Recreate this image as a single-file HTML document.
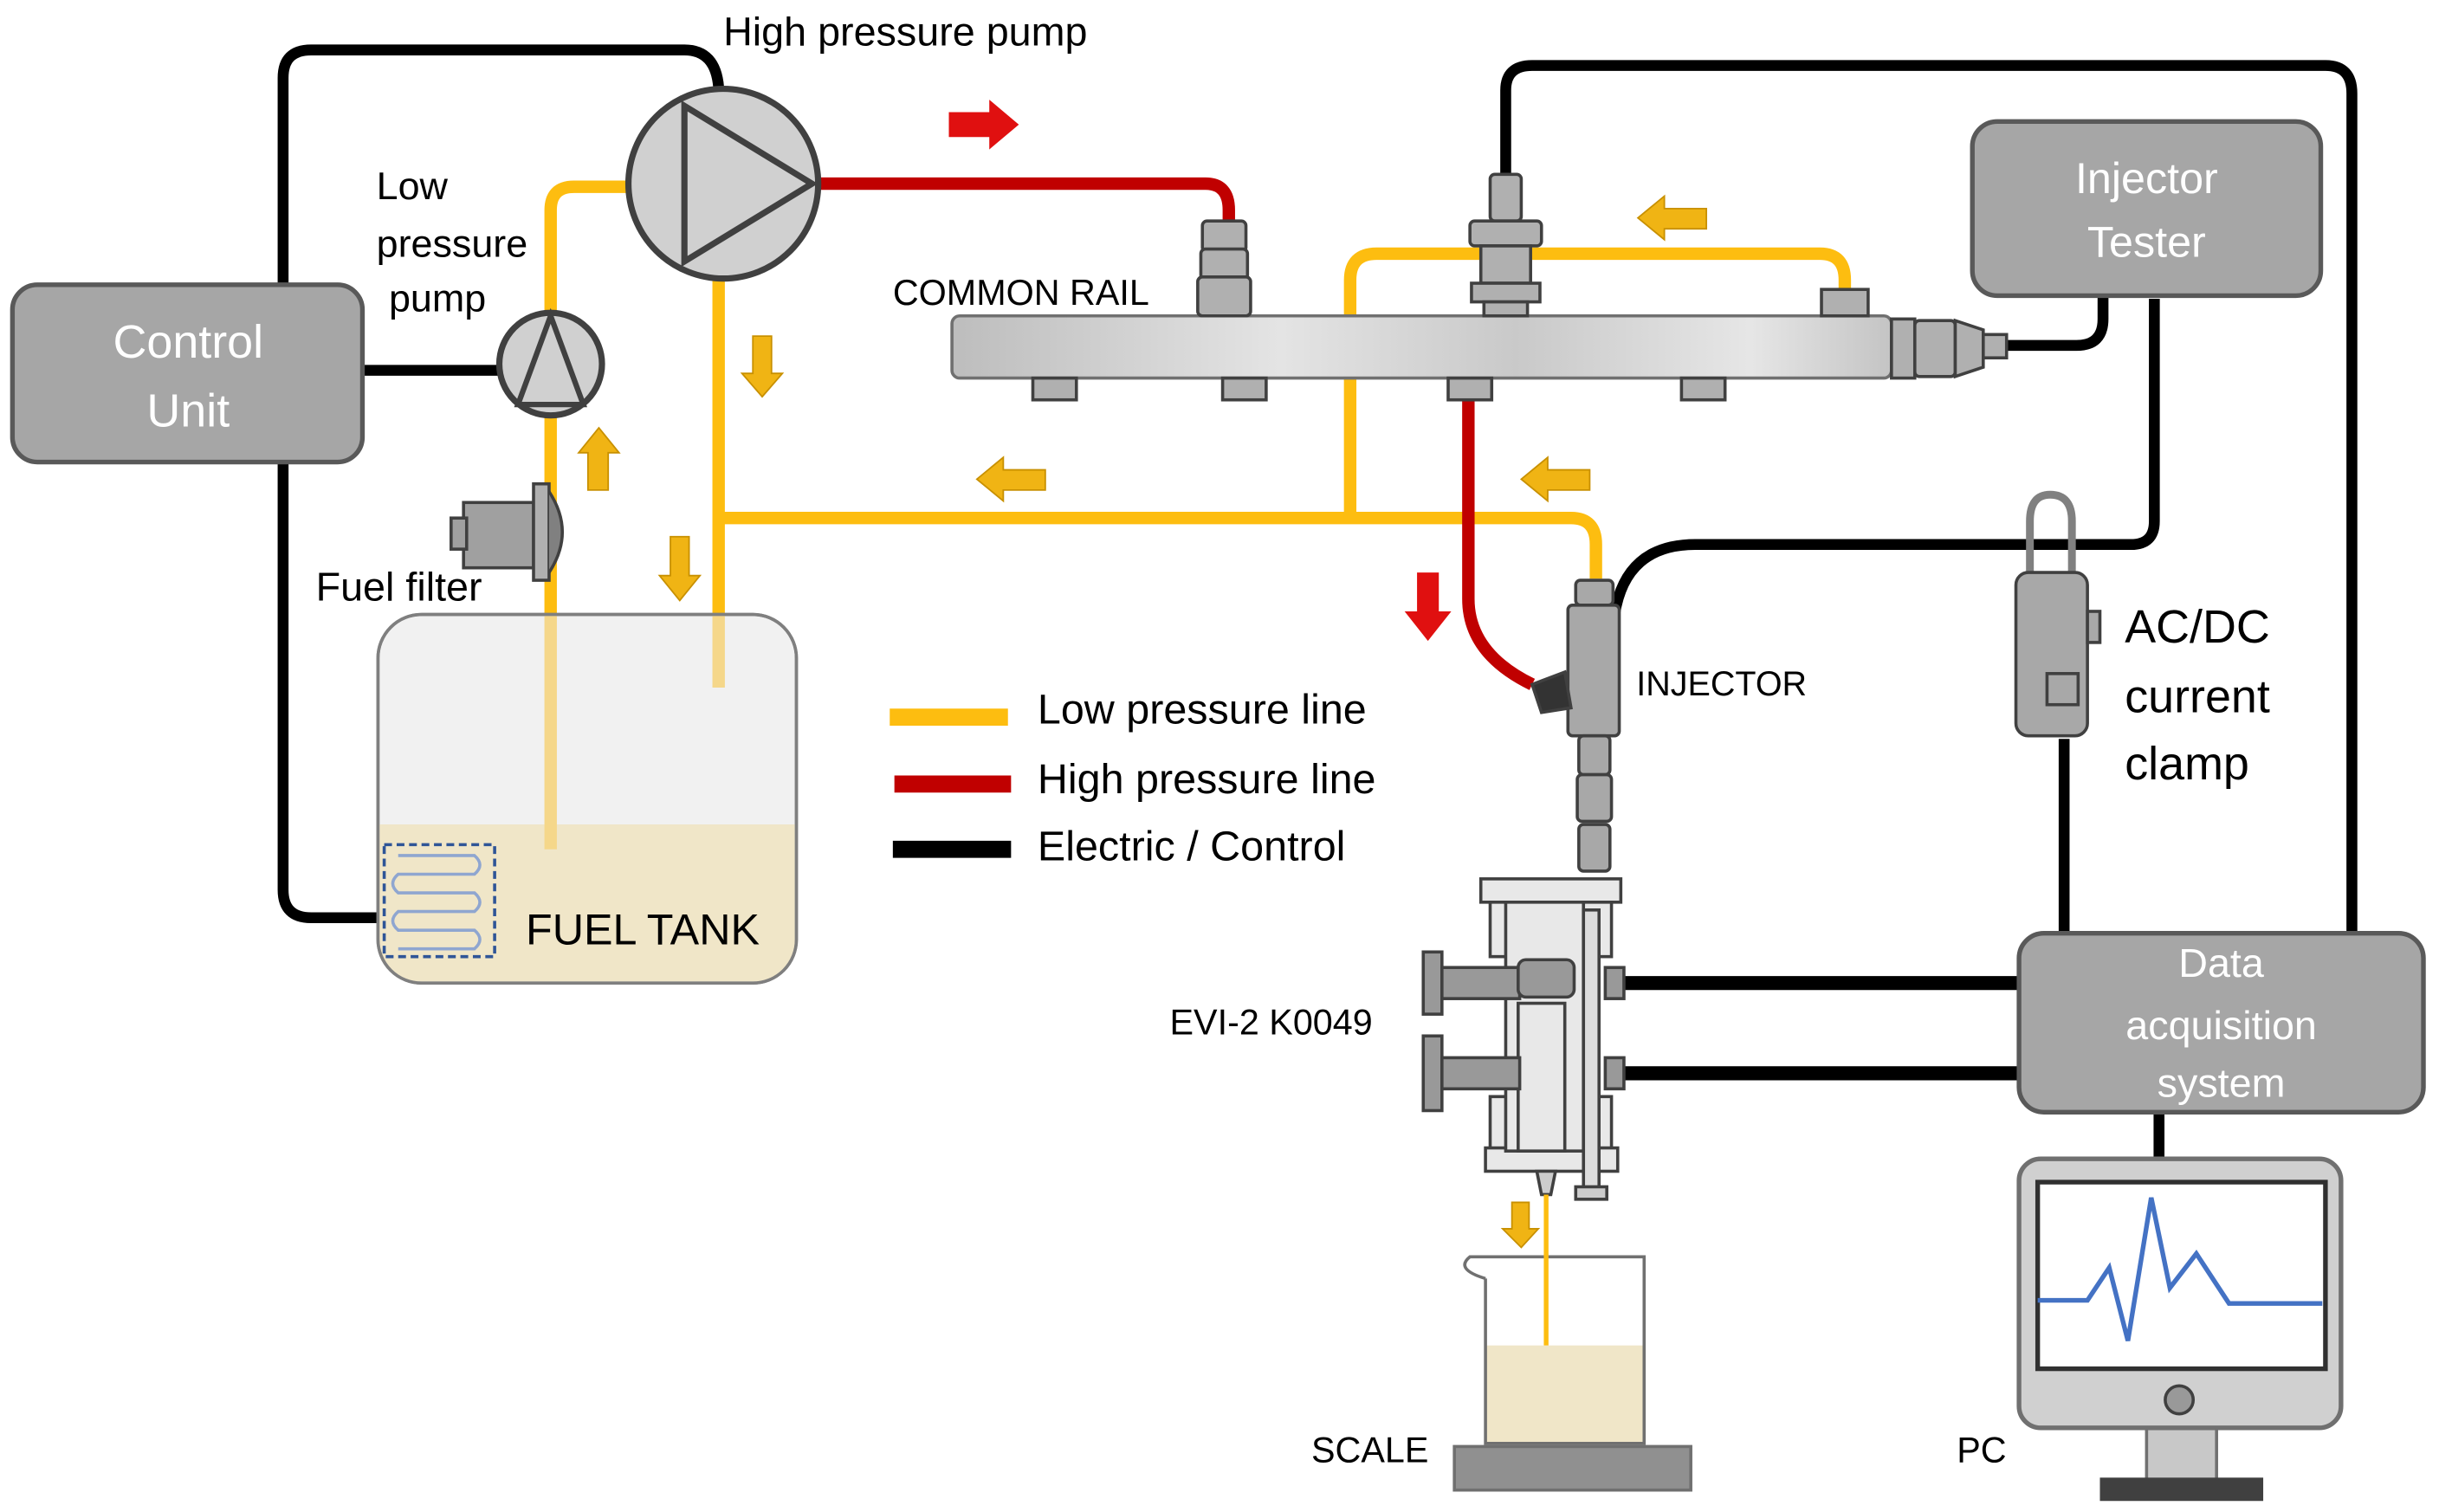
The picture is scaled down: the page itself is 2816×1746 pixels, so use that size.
<!DOCTYPE html>
<html><head><meta charset="utf-8"><style>
html,body{margin:0;padding:0;background:#fff}
svg{display:block}
text{font-family:"Liberation Sans",sans-serif}
</style></head><body>
<svg width="2816" height="1746" viewBox="0 0 1568 972" xmlns="http://www.w3.org/2000/svg">
<defs>
<linearGradient id="rail" x1="0" x2="1" y1="0" y2="0">
<stop offset="0" stop-color="#bdbdbd"/><stop offset="0.35" stop-color="#e4e4e4"/><stop offset="0.6" stop-color="#c9c9c9"/><stop offset="0.85" stop-color="#e6e6e6"/><stop offset="1" stop-color="#c4c4c4"/>
</linearGradient>
</defs>
<g fill="none" stroke-linecap="butt">
<path d="M182 183 V50 Q182 32 200 32 H440 Q460 32 462 56" stroke="#000" stroke-width="7"/>
<path d="M182 297 V572 Q182 590 200 590 H247" stroke="#000" stroke-width="7"/>
<path d="M233 238 H322" stroke="#000" stroke-width="7"/>
<path d="M968 112 V58 Q968 42 985 42 H1495 Q1512 42 1512 60 V602" stroke="#000" stroke-width="7"/>
<path d="M1290 222 H1335 Q1352 222 1352 205 V190" stroke="#000" stroke-width="7"/>
<path d="M1385 192 V335 Q1385 350 1370 350 H1090 Q1045 350 1038 395" stroke="#000" stroke-width="7"/>
<path d="M1327 475 V602" stroke="#000" stroke-width="7"/>
<path d="M1040 632 H1300 M1040 690 H1300" stroke="#000" stroke-width="9"/>
<path d="M1388 715 V746" stroke="#000" stroke-width="7"/>
<path d="M354 200 V135 Q354 120 369 120 H405" stroke="#fdbd10" stroke-width="8"/>
<path d="M354 268 V396" stroke="#fdbd10" stroke-width="8"/>
<path d="M462 180 V396" stroke="#fdbd10" stroke-width="8"/>
<path d="M462 333 H1010 Q1026 333 1026 350 V372" stroke="#fdbd10" stroke-width="8"/>
<path d="M868 333 V180 Q868 163 885 163 H1170 Q1186 163 1186 180 V190" stroke="#fdbd10" stroke-width="8"/>
<path d="M527 118 H775 Q790 118 790 135 V142" stroke="#c00000" stroke-width="8"/>
<path d="M944 258 V385 Q944 420 985 440" stroke="#c00000" stroke-width="8"/>
</g>
<rect x="243" y="395" width="269" height="237" rx="28" fill="#f1f1f1" stroke="#7f7f7f" stroke-width="2"/>
<path d="M244 530 H511 V604 Q511 631 484 631 H271 Q244 631 244 604 Z" fill="#f0e6c8"/>
<rect x="243" y="395" width="269" height="237" rx="28" fill="none" stroke="#7f7f7f" stroke-width="2"/>
<path d="M354 396 V546 M462 396 V442" stroke="#f5d78a" stroke-width="8"/>
<rect x="247" y="543" width="71" height="72" fill="none" stroke="#2f5597" stroke-width="2" stroke-dasharray="5,3"/>
<path d="M256 550 H305 Q312 556 305 562 H256 Q249 568 256 574 H305 Q312 580 305 586 H256 Q249 592 256 598 H305 Q312 604 305 610 H256" fill="none" stroke="#8fa6d0" stroke-width="2"/>
<text x="338" y="607" font-size="28" fill="#000">FUEL TANK</text>
<rect x="8" y="183" width="225" height="114" rx="16" fill="#a6a6a6" stroke="#595959" stroke-width="3"/>
<text x="121" y="230" font-size="30" fill="#fff" text-anchor="middle">Control</text>
<text x="121" y="274" font-size="30" fill="#fff" text-anchor="middle">Unit</text>
<circle cx="465" cy="118" r="61" fill="#d0d0d0" stroke="#404040" stroke-width="4"/>
<path d="M440 68 L522 118 L440 168 Z" fill="none" stroke="#404040" stroke-width="4"/>
<circle cx="354" cy="234" r="33" fill="#d0d0d0" stroke="#404040" stroke-width="4"/>
<path d="M354 203 L333 260 H375 Z" fill="none" stroke="#404040" stroke-width="3.5"/>
<rect x="298" y="323" width="45" height="42" fill="#a0a0a0" stroke="#404040" stroke-width="2"/>
<rect x="290" y="333" width="10" height="20" fill="#a0a0a0" stroke="#404040" stroke-width="2"/>
<rect x="343" y="311" width="10" height="62" fill="#b0b0b0" stroke="#404040" stroke-width="2"/>
<path d="M353 316 Q370 342 353 368" fill="#808080" stroke="#404040" stroke-width="2"/>
<text x="465" y="29" font-size="26">High pressure pump</text>
<text x="242" y="128" font-size="25">Low</text>
<text x="242" y="165" font-size="25">pressure</text>
<text x="250" y="200" font-size="25">pump</text>
<text x="203" y="386" font-size="26">Fuel filter</text>
<text x="574" y="196" font-size="23">COMMON RAIL</text>
<rect x="612" y="203" width="604" height="40" rx="5" fill="url(#rail)" stroke="#707070" stroke-width="2"/>
<g fill="#b0b0b0" stroke="#404040" stroke-width="2">
<rect x="664" y="243" width="28" height="14"/><rect x="786" y="243" width="28" height="14"/><rect x="931" y="243" width="28" height="14"/><rect x="1081" y="243" width="28" height="14"/>
<rect x="1171" y="186" width="30" height="17"/>
<rect x="773" y="142" width="28" height="20" rx="3"/><rect x="772" y="160" width="30" height="20" rx="3"/><rect x="770" y="178" width="34" height="25" rx="3"/>
<rect x="958" y="112" width="20" height="30" rx="3"/><rect x="945" y="142" width="46" height="16" rx="3"/><rect x="952" y="158" width="32" height="24"/><rect x="946" y="182" width="44" height="12"/><rect x="954" y="194" width="28" height="9"/>
<rect x="1216" y="205" width="15" height="38"/><rect x="1231" y="206" width="26" height="36" rx="3"/><path d="M1257 206 L1275 212 V236 L1257 242 Z"/><rect x="1275" y="215" width="15" height="15"/>
</g>
<rect x="1268" y="78" width="224" height="112" rx="16" fill="#a6a6a6" stroke="#595959" stroke-width="3"/>
<text x="1380" y="124" font-size="28" fill="#fff" text-anchor="middle">Injector</text>
<text x="1380" y="165" font-size="28" fill="#fff" text-anchor="middle">Tester</text>
<g fill="#a8a8a8" stroke="#404040" stroke-width="2">
<rect x="1013" y="373" width="24" height="16" rx="3"/>
<rect x="1008" y="389" width="33" height="84" rx="3"/>
<path d="M985 440 L1006 432 L1010 455 L991 458 Z" fill="#333"/>
<rect x="1015" y="473" width="20" height="25" rx="3"/><rect x="1014" y="498" width="22" height="30" rx="3"/><rect x="1015" y="530" width="20" height="30" rx="3"/>
</g>
<text x="1052" y="447" font-size="22">INJECTOR</text>
<path d="M1305 372 V335 Q1305 318 1318 318 Q1332 318 1332 335 V372" fill="none" stroke="#808080" stroke-width="5"/>
<rect x="1296" y="368" width="46" height="105" rx="8" fill="#a8a8a8" stroke="#404040" stroke-width="2"/>
<rect x="1342" y="393" width="8" height="20" fill="#a8a8a8" stroke="#404040" stroke-width="2"/>
<rect x="1316" y="433" width="20" height="20" fill="#a8a8a8" stroke="#404040" stroke-width="2"/>
<text x="1366" y="413" font-size="30">AC/DC</text>
<text x="1366" y="458" font-size="30">current</text>
<text x="1366" y="501" font-size="30">clamp</text>
<g fill="#e8e8e8" stroke="#404040" stroke-width="2">
<rect x="952" y="565" width="90" height="15"/>
<rect x="958" y="580" width="78" height="35"/>
<rect x="958" y="705" width="78" height="35"/>
<rect x="955" y="738" width="85" height="15"/>
<rect x="968" y="580" width="50" height="160"/>
<rect x="976" y="645" width="30" height="95"/>
<rect x="1018" y="585" width="10" height="180" fill="#ddd"/>
<rect x="1013" y="763" width="20" height="8" fill="#ccc"/>
<path d="M988 753 H1000 L997 768 H991 Z" fill="#ccc"/>
</g>
<g fill="#999" stroke="#404040" stroke-width="2">
<rect x="915" y="612" width="12" height="40"/><rect x="927" y="622" width="50" height="20"/>
<rect x="915" y="666" width="12" height="48"/><rect x="927" y="680" width="50" height="20"/>
<rect x="976" y="617" width="36" height="24" rx="5"/>
<rect x="1032" y="622" width="12" height="20"/><rect x="1032" y="680" width="12" height="20"/>
</g>
<text x="752" y="665" font-size="23">EVI-2 K0049</text>
<rect x="935" y="930" width="152" height="28" fill="#909090" stroke="#707070" stroke-width="2"/>
<rect x="955" y="865" width="102" height="63" fill="#f0e6c8"/>
<path d="M955 822 V928 H1057 V808 H945 Q935 816 955 822" fill="none" stroke="#707070" stroke-width="2"/>
<path d="M994 768 V865" stroke="#fdbd10" stroke-width="3"/>
<text x="843" y="940" font-size="23">SCALE</text>
<rect x="1298" y="600" width="260" height="115" rx="16" fill="#a6a6a6" stroke="#595959" stroke-width="3"/>
<text x="1428" y="628" font-size="26" fill="#fff" text-anchor="middle">Data</text>
<text x="1428" y="668" font-size="26" fill="#fff" text-anchor="middle">acquisition</text>
<text x="1428" y="705" font-size="26" fill="#fff" text-anchor="middle">system</text>
<rect x="1380" y="915" width="45" height="38" fill="#c8c8c8" stroke="#707070" stroke-width="2"/>
<rect x="1350" y="950" width="105" height="15" fill="#404040"/>
<rect x="1298" y="745" width="207" height="173" rx="14" fill="#d0d0d0" stroke="#707070" stroke-width="3"/>
<rect x="1310" y="760" width="185" height="120" fill="#fff" stroke="#303030" stroke-width="3"/>
<path d="M1310 836 H1342 L1356 815 L1368 862 L1383 770 L1395 828 L1412 806 L1433 838 H1493" fill="none" stroke="#4472c4" stroke-width="3"/>
<circle cx="1401" cy="900" r="9" fill="#999" stroke="#404040" stroke-width="2"/>
<text x="1258" y="940" font-size="23">PC</text>
<path d="M572 461 H648" stroke="#fdbd10" stroke-width="11"/>
<path d="M575 504 H650" stroke="#c00000" stroke-width="11"/>
<path d="M574 546 H650" stroke="#000" stroke-width="11"/>
<text x="667" y="465" font-size="27">Low pressure line</text>
<text x="667" y="510" font-size="27">High pressure line</text>
<text x="667" y="553" font-size="27">Electric / Control</text>
<g fill="#f0b414" stroke="#c89000" stroke-width="1">
<path d="M484 216 H496 V240 H503 L490 255 L477 240 H484 Z"/>
<path d="M378 315 H391 V291 H398 L385 275 L372 291 H378 Z"/>
<path d="M431 345 H443 V370 H450 L437 386 L424 370 H431 Z"/>
<path d="M672 302 V315 H645 V322 L628 308 L645 294 V302 Z"/>
<path d="M1022 302 V315 H995 V322 L978 308 L995 294 V302 Z"/>
<path d="M1097 134 V147 H1070 V154 L1053 140 L1070 126 V134 Z"/>
<path d="M972 773 H983 V790 H989 L978 802 L966 790 H972 Z"/>
</g>
<path d="M610 72 H636 V64 L655 80 L636 96 V88 H610 Z" fill="#e01010"/>
<path d="M911 368 H925 V393 H933 L918 412 L903 393 H911 Z" fill="#e01010"/>
</svg>
</body></html>
